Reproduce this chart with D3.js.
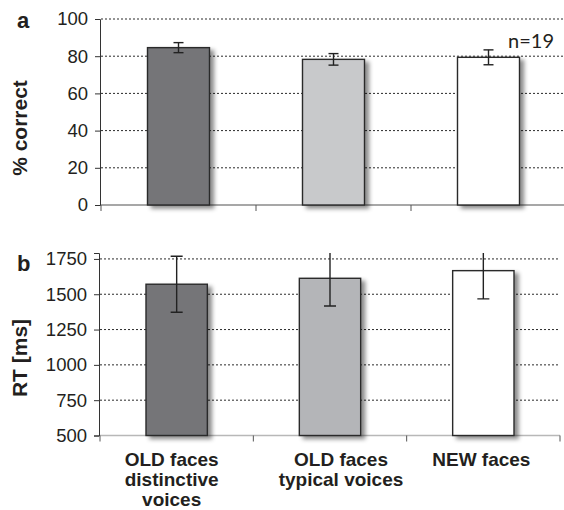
<!DOCTYPE html>
<html>
<head>
<meta charset="utf-8">
<script src="https://cdn.jsdelivr.net/npm/d3@7"></script>
<style>
  html, body { margin: 0; padding: 0; background: #fff; }
  svg { display: block; }
  text { font-family: "Liberation Sans", Arial, sans-serif; fill: #231f20; }
</style>
</head>
<body>
<script>
// Categories and values
const categories = ["OLD faces distinctive voices", "OLD faces typical voices", "NEW faces"];
const categoryLines = [["OLD faces", "distinctive", "voices"], ["OLD faces", "typical voices"], ["NEW faces"]];
const accuracy = [84.6, 78.3, 79.4];
const accuracyErr = [2.7, 3.1, 4.0];
const rt = [1571, 1613, 1667];
const rtErr = [198, 196, 200];
const accTicks = [0, 20, 40, 60, 80, 100];
const rtTicks = [500, 750, 1000, 1250, 1500, 1750];
const fillsA = ["#747578", "#c8c9cb", "#ffffff"];
const fillsB = ["#747578", "#b4b5b8", "#ffffff"];
const sampleNote = "n=19";

// small horizontal nudges for the category label blocks
const labelNudge = [-5, 11, -2];

const W = 564, H = 510;
const svg = d3.select("body").append("svg").attr("width", W).attr("height", H);

const defs = svg.append("defs");
defs.append("filter").attr("id", "shadow")
  .attr("x", "-20%").attr("y", "-10%").attr("width", "150%").attr("height", "130%")
  .append("feDropShadow")
  .attr("dx", 4).attr("dy", 3).attr("stdDeviation", 2)
  .attr("flood-color", "#000").attr("flood-opacity", 0.45);

function panel(opts) {
  const g = svg.append("g");
  const x = d3.scaleBand().domain(categories).range(opts.xRange);
  const y = d3.scaleLinear().domain(opts.yDomain).range(opts.yRange);
  const step = x.step();
  const bw = step * 0.4;

  const clipId = "clip-" + opts.id;
  defs.append("clipPath").attr("id", clipId).append("rect")
    .attr("x", opts.xRange[0]).attr("y", opts.yRange[1])
    .attr("width", opts.xRange[1] - opts.xRange[0])
    .attr("height", opts.yRange[0] - opts.yRange[1] + 10);

  // dotted gridlines
  g.selectAll("line.grid").data(opts.ticks.filter(t => opts.gridZero || t !== opts.yDomain[0]))
    .join("line").attr("class", "grid")
    .attr("x1", opts.xRange[0]).attr("x2", opts.xRange[1])
    .attr("y1", d => y(d)).attr("y2", d => y(d))
    .attr("stroke", "#2a2a2a").attr("stroke-width", 1)
    .attr("stroke-dasharray", "2,2");

  // baseline
  g.append("line")
    .attr("x1", opts.xRange[0]).attr("x2", opts.xRange[1])
    .attr("y1", y(opts.yDomain[0])).attr("y2", y(opts.yDomain[0]))
    .attr("stroke", opts.gridZero ? "#b8b8b8" : "#8a8a8a").attr("stroke-width", 1.3);

  // category tick marks below the baseline
  const bounds = categories.map(c => x(c)).concat([x(categories[2]) + step]);
  g.selectAll("line.xt").data(bounds).join("line").attr("class", "xt")
    .attr("x1", d => d).attr("x2", d => d)
    .attr("y1", y(opts.yDomain[0])).attr("y2", y(opts.yDomain[0]) + 6)
    .attr("stroke", "#555").attr("stroke-width", 1);

  // y axis
  const axis = d3.axisLeft(y).tickValues(opts.ticks).tickFormat(d3.format("d"))
    .tickSize(5).tickPadding(7);
  const ag = g.append("g").attr("transform", `translate(${opts.xRange[0] - 1},0)`).call(axis);
  ag.select(".domain").attr("stroke", "#333").attr("stroke-width", 1);
  ag.selectAll(".tick line").attr("stroke", "#333");
  ag.selectAll(".tick text").attr("font-size", 18.5).attr("fill", "#231f20");

  // bars
  const barsG = g.append("g").attr("clip-path", `url(#${clipId})`);
  barsG.selectAll("rect.bar").data(opts.values).join("rect").attr("class", "bar")
    .attr("x", (d, i) => x(categories[i]) + (step - bw) / 2)
    .attr("y", d => y(d))
    .attr("width", bw)
    .attr("height", d => y(opts.yDomain[0]) - y(d))
    .attr("fill", (d, i) => opts.fills[i])
    .attr("stroke", "#2b2b2b").attr("stroke-width", 1.4)
    .attr("filter", "url(#shadow)");

  // error bars
  const cap = opts.cap;
  const eg = barsG.selectAll("g.err").data(opts.values).join("g").attr("class", "err")
    .attr("transform", (d, i) => `translate(${x(categories[i]) + step / 2},0)`);
  eg.append("line")
    .attr("y1", (d, i) => y(d + opts.errors[i])).attr("y2", (d, i) => y(d - opts.errors[i]))
    .attr("stroke", "#222").attr("stroke-width", 1.4);
  eg.append("line").attr("x1", -cap).attr("x2", cap)
    .attr("y1", (d, i) => y(d + opts.errors[i])).attr("y2", (d, i) => y(d + opts.errors[i]))
    .attr("stroke", "#222").attr("stroke-width", 1.4);
  eg.append("line").attr("x1", -cap).attr("x2", cap)
    .attr("y1", (d, i) => y(d - opts.errors[i])).attr("y2", (d, i) => y(d - opts.errors[i]))
    .attr("stroke", "#222").attr("stroke-width", 1.4);

  // axis title
  g.append("text")
    .attr("transform", `translate(${opts.titleX},${opts.titleY}) rotate(-90)`)
    .attr("text-anchor", "middle").attr("font-weight", "bold").attr("font-size", 21)
    .text(opts.title);

  // panel letter
  g.append("text").attr("x", 17).attr("y", opts.letterY)
    .attr("font-weight", "bold").attr("font-size", 22).text(opts.letter);

  return { x, y, step };
}

const pa = panel({
  id: "a", xRange: [101, 566], yRange: [205, 19], yDomain: [0, 100],
  ticks: accTicks, values: accuracy, errors: accuracyErr, fills: fillsA,
  cap: 5, title: "% correct", titleX: 27, titleY: 128, letter: "a", letterY: 28, gridZero: false
});

const pb = panel({
  id: "b", xRange: [100, 560], yRange: [435.5, 253], yDomain: [500, 1792],
  ticks: rtTicks, values: rt, errors: rtErr, fills: fillsB,
  cap: 6, title: "RT [ms]", titleX: 27, titleY: 358, letter: "b", letterY: 271, gridZero: true
});

// sample size note
svg.append("text").attr("x", 531).attr("y", 48).attr("text-anchor", "middle")
  .attr("font-size", 20)
  .style("font-family", "Lato, 'Open Sans', sans-serif")
  .text(sampleNote);

// category labels under panel b
const labelCenters = categories.map((c, i) => pb.x(c) + pb.step / 2 + labelNudge[i]);
const lg = svg.selectAll("text.cat").data(categoryLines).join("text").attr("class", "cat")
  .attr("text-anchor", "middle").attr("font-weight", "bold").attr("font-size", 19)
  .attr("transform", (d, i) => `translate(${labelCenters[i]},0)`);
lg.selectAll("tspan").data(d => d).join("tspan")
  .attr("x", 0).attr("y", (d, j) => 466 + j * 20).text(d => d);
</script>
</body>
</html>
